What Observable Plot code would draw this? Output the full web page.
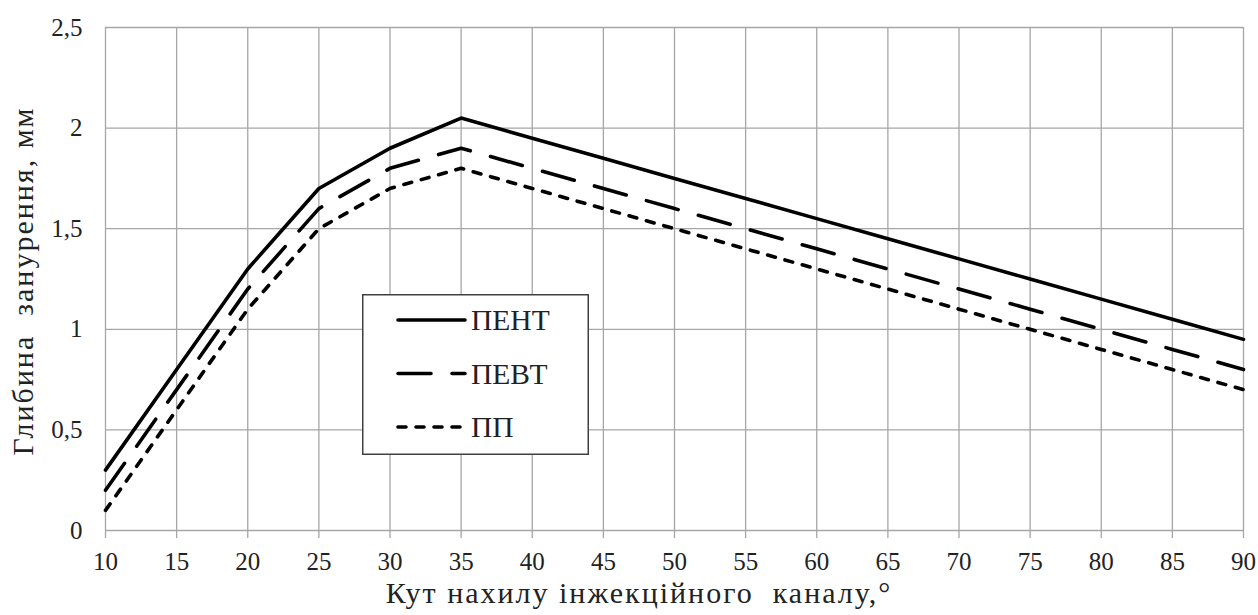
<!DOCTYPE html>
<html>
<head>
<meta charset="utf-8">
<script src="https://cdn.jsdelivr.net/npm/d3@7"></script>
<script src="https://cdn.jsdelivr.net/npm/@observablehq/plot@0.6"></script>
<style>
  html, body { margin: 0; padding: 0; background: #fff; }
  #wrap { position: relative; width: 1258px; height: 615px; font-family: "Liberation Serif", "Times New Roman", serif; }
  #wrap svg text { font-family: "Liberation Serif", "Times New Roman", serif !important; }
  #legend { position: absolute; left: 362px; top: 294px; }
</style>
</head>
<body>
<div id="wrap"></div>
<script>
const angles = [10, 15, 20, 25, 30, 35, 40, 45, 50, 55, 60, 65, 70, 75, 80, 85, 90];
const pent = [0.3, 0.8, 1.3, 1.7, 1.9, 2.05, 1.95, 1.85, 1.75, 1.65, 1.55, 1.45, 1.35, 1.25, 1.15, 1.05, 0.95];
const pevt = [0.2, 0.7, 1.2, 1.6, 1.8, 1.9, 1.8, 1.7, 1.6, 1.5, 1.4, 1.3, 1.2, 1.1, 1.0, 0.9, 0.8];
const pp   = [0.1, 0.6, 1.1, 1.5, 1.7, 1.8, 1.7, 1.6, 1.5, 1.4, 1.3, 1.2, 1.1, 1.0, 0.9, 0.8, 0.7];
const seriesNames = ["ПЕНТ", "ПЕВТ", "ПП"];
const xTicks = [10, 15, 20, 25, 30, 35, 40, 45, 50, 55, 60, 65, 70, 75, 80, 85, 90];
const yTicks = [0, 0.5, 1, 1.5, 2, 2.5];
const xTitle = "Кут нахилу інжекційного  каналу,°";
const yTitle = "Глибина  занурення, мм";

const seriesValues = [pent, pevt, pp];
const dashes = [null, "33,21", "8,10"];
const toRows = vals => angles.map((a, i) => ({x: a, y: vals[i]}));
const fmt = d => String(d).replace(".", ",");
const gridColor = "#a6a6a6";
const serif = "'Liberation Serif', 'Times New Roman', serif";

const lineMarks = seriesValues.map((vals, i) =>
  Plot.line(toRows(vals), {
    x: "x", y: "y", stroke: "#000", strokeWidth: 3.6,
    strokeLinecap: "round", strokeLinejoin: "round",
    ...(dashes[i] ? {strokeDasharray: dashes[i]} : {})
  })
);

const chart = Plot.plot({
  width: 1258, height: 615,
  marginLeft: 105, marginRight: 15, marginTop: 27, marginBottom: 85,
  style: `font-family: ${serif}; background: #fff; color: #222;`,
  x: {domain: [10, 90]},
  y: {domain: [0, 2.5]},
  marks: [
    Plot.gridX(xTicks, {stroke: gridColor, strokeOpacity: 1, strokeWidth: 1.3}),
    Plot.gridY(yTicks, {stroke: gridColor, strokeOpacity: 1, strokeWidth: 1.3}),
    Plot.axisX(xTicks, {tickSize: 8, stroke: gridColor, strokeWidth: 1.3, tickPadding: 14, tickFormat: fmt, fontSize: 25, fill: "#222", label: null}),
    Plot.axisY(yTicks, {tickSize: 0, tickPadding: 23, tickFormat: fmt, fontSize: 25, fill: "#222", label: null}),
    ...lineMarks
  ]
});

const svg = d3.select(chart);
svg.selectAll("text").style("font-family", serif);
svg.append("text")
  .attr("x", 639).attr("y", 603)
  .attr("text-anchor", "middle")
  .attr("font-size", 30).attr("fill", "#222")
  .style("font-family", serif)
  .style("letter-spacing", "2px")
  .style("white-space", "pre")
  .text(xTitle);
svg.append("text")
  .attr("transform", "translate(33,281) rotate(-90)")
  .attr("text-anchor", "middle")
  .attr("font-size", 30).attr("fill", "#222")
  .style("font-family", serif)
  .style("letter-spacing", "2px")
  .style("white-space", "pre")
  .text(yTitle);

document.getElementById("wrap").appendChild(chart);

// legend
const lg = d3.select("#wrap").append("svg")
  .attr("id", "legend").attr("width", 227).attr("height", 161);
lg.append("rect").attr("x", 0.75).attr("y", 0.75).attr("width", 225.5).attr("height", 159.5)
  .attr("fill", "#fff").attr("stroke", "#404040").attr("stroke-width", 1.5);
seriesNames.forEach((name, i) => {
  const cy = 26 + i * 53.5;
  const ln = lg.append("line").attr("x1", 36).attr("x2", 103).attr("y1", cy).attr("y2", cy)
    .attr("stroke", "#000").attr("stroke-width", 3.6).attr("stroke-linecap", "round");
  if (dashes[i]) ln.attr("stroke-dasharray", dashes[i]);
  lg.append("text").attr("x", 109).attr("y", cy + 10)
    .style("font-family", serif)
    .attr("font-size", 29.5).attr("fill", "#222").text(name);
});
</script>
</body>
</html>
